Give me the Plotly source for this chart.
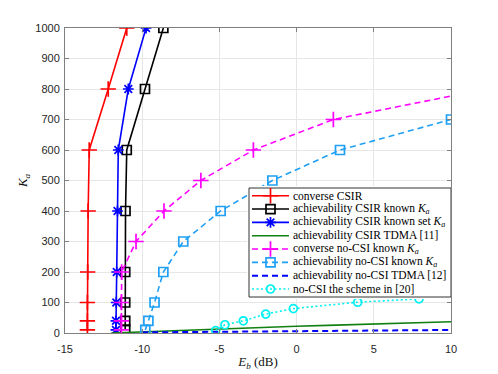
import plotly.graph_objects as go

# ---- data ----
ka_csir = [10, 40, 100, 200, 400, 600, 800, 1000]
eb_conv_csir = [-13.55, -13.55, -13.55, -13.53, -13.5, -13.43, -12.2, -11.0]
eb_ach_csir = [-11.1, -11.1, -11.1, -11.1, -11.08, -11.0, -9.82, -8.63]
eb_ach_csir_set = [-11.7, -11.7, -11.68, -11.65, -11.6, -11.55, -10.9, -9.75]

eb_tdma_csir = [-12.0, -10.0, -8.0, -6.0, -4.0, -2.0, 0.0, 2.0, 4.0, 6.0, 8.0, 10.0]
ka_tdma_csir = [0, 4, 8, 12, 15, 18, 22, 25, 28, 31, 34, 37]

ka_conv_nocsi = [10, 40, 100, 200, 300, 400, 500, 600, 700, 800]
eb_conv_nocsi = [-11.35, -11.35, -11.35, -11.33, -10.4, -8.59, -6.2, -2.8, 2.38, 12.3]

ka_ach_nocsi = [10, 40, 100, 200, 300, 400, 500, 600, 700]
eb_ach_nocsi = [-9.8, -9.6, -9.2, -8.63, -7.34, -4.92, -1.57, 2.81, 10.0]

eb_tdma_nocsi = [-10.0, -5.0, 0.0, 5.0, 10.0]
ka_tdma_nocsi = [2, 4, 6, 8, 10]

eb_scheme20 = [-5.24, -4.64, -3.45, -2.0, -0.21, 3.96, 7.93]
ka_scheme20 = [8, 27, 40, 62, 80, 101, 112]

x_tick_vals = [-15, -10, -5, 0, 5, 10]
x_tick_labels = ["-15", "-10", "-5", "0", "5", "10"]
y_tick_vals = [0, 100, 200, 300, 400, 500, 600, 700, 800, 900, 1000]

Ka = "<i>K</i><sub><i>a</i></sub>"
legend_labels = [
    "converse CSIR",
    "achievability CSIR known " + Ka,
    "achievability CSIR known set " + Ka,
    "achievability CSIR TDMA [11]",
    "converse no-CSI known " + Ka,
    "achievability no-CSI known " + Ka,
    "achievability no-CSI TDMA [12]",
    "no-CSI the scheme in [20]",
]

# ---- styles ----
styles = [
    dict(color="#ff0000", dash="solid", width=1.6, symbol="cross-thin-open", msize=11),
    dict(color="#000000", dash="solid", width=1.6, symbol="square-open", msize=9),
    dict(color="#0000ff", dash="solid", width=1.6, symbol="asterisk-open", msize=9),
    dict(color="#128012", dash="solid", width=1.6, symbol=None, msize=0),
    dict(color="#ff00ff", dash="6px,4px", width=1.6, symbol="cross-thin-open", msize=11),
    dict(color="#1fa0f5", dash="6px,4px", width=1.6, symbol="square-open", msize=9),
    dict(color="#0000ff", dash="6px,4px", width=2.0, symbol=None, msize=0),
    dict(color="#00f0f0", dash="2px,2.5px", width=1.6, symbol="circle-open", msize=8),
]
series = [
    (eb_conv_csir, ka_csir),
    (eb_ach_csir, ka_csir),
    (eb_ach_csir_set, ka_csir),
    (eb_tdma_csir, ka_tdma_csir),
    (eb_conv_nocsi, ka_conv_nocsi),
    (eb_ach_nocsi, ka_ach_nocsi),
    (eb_tdma_nocsi, ka_tdma_nocsi),
    (eb_scheme20, ka_scheme20),
]

fig = go.Figure()

for (xs, ys), st, name in zip(series, styles, legend_labels):
    line = dict(color=st["color"], width=st["width"], dash=st["dash"])
    if st["symbol"]:
        fig.add_trace(go.Scatter(
            x=xs, y=ys, mode="lines+markers", name=name, showlegend=False,
            line=line,
            marker=dict(symbol=st["symbol"], size=st["msize"], color=st["color"],
                        line=dict(color=st["color"], width=1.7))))
    else:
        fig.add_trace(go.Scatter(x=xs, y=ys, mode="lines", name=name,
                                 showlegend=False, line=line))

# ---- legend drawn on an overlay sub-axis (x2/y2) ----
# x2 in pixels of the legend box, y2 in legend rows
box_w = 202
fig.add_trace(go.Scatter(
    x=[0, box_w, box_w, 0, 0], y=[-0.58, -0.58, 7.6, 7.6, -0.58],
    xaxis="x2", yaxis="y2", mode="lines", fill="toself", fillcolor="white",
    line=dict(color="#333333", width=1), showlegend=False, hoverinfo="skip"))
for i, (st, name) in enumerate(zip(styles, legend_labels)):
    fig.add_trace(go.Scatter(
        x=[3, 40], y=[i, i], xaxis="x2", yaxis="y2", mode="lines",
        line=dict(color=st["color"], width=st["width"], dash=st["dash"]),
        showlegend=False, hoverinfo="skip"))
    if st["symbol"]:
        fig.add_trace(go.Scatter(
            x=[21.5], y=[i], xaxis="x2", yaxis="y2", mode="markers",
            marker=dict(symbol=st["symbol"], size=st["msize"], color=st["color"],
                        line=dict(color=st["color"], width=1.7)),
            showlegend=False, hoverinfo="skip"))
    fig.add_annotation(x=42, y=i, xref="x2", yref="y2", text=name,
                       showarrow=False, xanchor="left", yanchor="middle",
                       font=dict(family="Liberation Serif, Times New Roman, serif",
                                 size=11.5, color="#000000"))

axis_common = dict(
    showgrid=True, gridcolor="#e6e6e6", gridwidth=1,
    showline=True, linecolor="#808080", linewidth=1, mirror="ticks",
    ticks="inside", ticklen=4, tickcolor="#808080",
    zeroline=False, automargin=False,
    tickfont=dict(family="Liberation Sans, Arial, sans-serif", size=11, color="#262626"),
)
hidden = dict(showgrid=False, zeroline=False, showline=False, showticklabels=False,
              ticks="", fixedrange=True)

# plot area in pixels: x 65..451, y 28..333
fig.update_layout(
    width=498, height=374,
    margin=dict(l=65, r=47, t=28, b=41),
    paper_bgcolor="white", plot_bgcolor="white",
    showlegend=False,
    xaxis=dict(range=[-15, 10], tickvals=x_tick_vals, ticktext=x_tick_labels,
               ticklabelstandoff=6,
               title=dict(text="<i>E</i><sub><i>b</i></sub> (dB)", standoff=2,
                          font=dict(family="Liberation Serif, serif", size=13, color="#111111")),
               **axis_common),
    yaxis=dict(range=[0, 1000], tickvals=y_tick_vals, ticklabelstandoff=2,
               title=dict(text=Ka, standoff=4,
                          font=dict(family="Liberation Serif, serif", size=13, color="#111111")),
               **axis_common),
    xaxis2=dict(domain=[(247 - 65) / 386, 1.0], range=[-2, box_w], anchor="y2", **hidden),
    yaxis2=dict(domain=[(333 - 299) / 305, (333 - 186) / 305], range=[7.75, -0.73],
                anchor="x2", **hidden),
)

fig.write_html("out.html", config={"displayModeBar": False},
               post_script="document.body.style.margin='0px';")
